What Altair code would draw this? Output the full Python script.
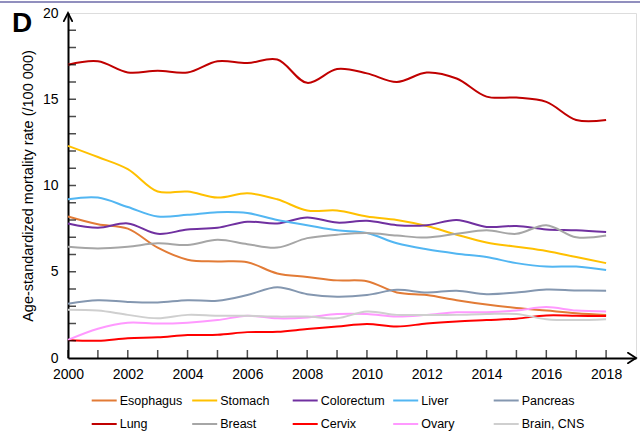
import altair as alt
import pandas as pd

# Age-standardized mortality rates (/100 000), 2000-2018
years = list(range(2000, 2019))

sites = ["Esophagus", "Stomach", "Colorectum", "Liver", "Pancreas",
         "Lung", "Breast", "Cervix", "Ovary", "Brain, CNS"]
colors = ["#E27B36", "#FFC000", "#7030A0", "#52B6F2", "#8497B0",
          "#C00000", "#A6A6A6", "#FF0000", "#FF99FF", "#CFCFCF"]

esophagus = [8.2, 7.75, 7.5, 6.4, 5.7, 5.6, 5.55, 4.9, 4.7, 4.5, 4.45, 3.8, 3.65, 3.35, 3.1, 2.9, 2.75, 2.6, 2.5]
stomach = [12.3, 11.65, 10.95, 9.65, 9.65, 9.3, 9.55, 9.2, 8.55, 8.55, 8.2, 8.0, 7.65, 7.15, 6.7, 6.45, 6.2, 5.85, 5.5]
colorectum = [7.8, 7.55, 7.8, 7.2, 7.45, 7.55, 7.9, 7.8, 8.15, 7.85, 7.95, 7.7, 7.7, 8.0, 7.6, 7.65, 7.45, 7.4, 7.3]
liver = [9.2, 9.3, 8.75, 8.2, 8.3, 8.45, 8.4, 8.0, 7.7, 7.4, 7.25, 6.65, 6.3, 6.05, 5.85, 5.5, 5.3, 5.3, 5.1]
pancreas = [3.15, 3.35, 3.25, 3.22, 3.35, 3.32, 3.65, 4.1, 3.7, 3.55, 3.65, 3.95, 3.8, 3.9, 3.7, 3.8, 3.97, 3.92, 3.9]
lung = [17.0, 17.2, 16.55, 16.65, 16.55, 17.2, 17.1, 17.3, 15.95, 16.75, 16.5, 16.0, 16.55, 16.2, 15.15, 15.1, 14.85, 13.8, 13.8]
breast = [6.45, 6.35, 6.45, 6.65, 6.55, 6.85, 6.6, 6.4, 6.95, 7.15, 7.25, 7.1, 6.98, 7.2, 7.4, 7.2, 7.7, 7.0, 7.1]
cervix = [1.05, 1.0, 1.15, 1.2, 1.33, 1.35, 1.5, 1.52, 1.68, 1.82, 1.97, 1.82, 2.0, 2.12, 2.2, 2.28, 2.47, 2.45, 2.43]
ovary = [1.05, 1.7, 2.05, 2.0, 2.05, 2.2, 2.45, 2.3, 2.35, 2.55, 2.55, 2.4, 2.5, 2.65, 2.65, 2.75, 2.95, 2.75, 2.7]
brain_cns = [2.8, 2.75, 2.5, 2.3, 2.5, 2.45, 2.45, 2.4, 2.4, 2.3, 2.7, 2.5, 2.5, 2.5, 2.55, 2.55, 2.25, 2.2, 2.25]

series = [esophagus, stomach, colorectum, liver, pancreas,
          lung, breast, cervix, ovary, brain_cns]

x_labels = list(range(2000, 2019, 2))
y_labels = [0, 5, 10, 15, 20]
panel_label = ["D"]

X_MIN, X_END = 2000, 2019
Y_MIN, Y_END = 0, 20
W, H = 568, 345
FONT = "Liberation Sans"

rows = []
for site, vals in zip(sites, series):
    for yr, v in zip(years, vals):
        rows.append({"year": yr, "site": site, "rate": v})
df = pd.DataFrame(rows)

x_scale = alt.Scale(domain=[X_MIN, X_END], nice=False, zero=False)
y_scale = alt.Scale(domain=[Y_MIN, Y_END], nice=False)

x_axis = alt.Axis(values=x_labels, format="d", title=None, grid=False,
                  tickSize=0, domainWidth=2, domainColor="black",
                  labelFontSize=14, labelColor="black",
                  labelPadding=9, labelFlush=False, labelFont=FONT)
y_axis = alt.Axis(values=y_labels, title="Age-standardized mortality rate (/100 000)",
                  grid=False, tickSize=0, domainWidth=2, domainColor="black",
                  labelFontSize=14, labelColor="black", labelPadding=10,
                  labelFont=FONT, titleFont=FONT, titleFontSize=14.5,
                  titleFontWeight="normal", titleColor="black",
                  titlePadding=7)

lines = alt.Chart(df).mark_line(
    interpolate="catmull-rom", strokeWidth=2
).encode(
    x=alt.X("year:Q", scale=x_scale, axis=x_axis),
    y=alt.Y("rate:Q", scale=y_scale, axis=y_axis),
    color=alt.Color("site:N", scale=alt.Scale(domain=sites, range=colors),
                    legend=alt.Legend(orient="none", legendX=22.7, legendY=374,
                                      direction="horizontal", columns=5,
                                      gridAlign="all", title=None,
                                      symbolType="stroke", symbolSize=625,
                                      symbolStrokeWidth=2, labelFontSize=12.5,
                                      labelFont=FONT, labelColor="black",
                                      labelOffset=2, columnPadding=4.5,
                                      rowPadding=3.5, padding=0)),
    detail="site:N",
)

# minor/major ticks drawn inside the axes
x_ticks = alt.Chart(pd.DataFrame({"year": years, "rate": [Y_MIN] * len(years)})).mark_tick(
    orient="vertical", size=8, thickness=1.5, yOffset=-4, color="black"
).encode(
    x=alt.X("year:Q", scale=x_scale),
    y=alt.Y("rate:Q", scale=y_scale),
)

y_vals = list(range(1, 20))
y_ticks = alt.Chart(pd.DataFrame({"rate": y_vals, "year": [X_MIN] * len(y_vals)})).mark_tick(
    orient="horizontal", size=8, thickness=1.5, xOffset=4, color="black"
).encode(
    x=alt.X("year:Q", scale=x_scale),
    y=alt.Y("rate:Q", scale=y_scale),
)

# open arrow heads at the ends of both axes
arrow_df = pd.DataFrame({
    "year": [X_END - 0.27, X_END, X_END - 0.27,
             X_MIN - 0.14, X_MIN, X_MIN + 0.14],
    "rate": [Y_MIN + 0.3, Y_MIN, Y_MIN - 0.3,
             Y_END - 0.47, Y_END, Y_END - 0.47],
    "arm": ["x", "x", "x", "y", "y", "y"],
    "k": [0, 1, 2, 0, 1, 2],
})
arrows = alt.Chart(arrow_df).mark_line(
    color="black", strokeWidth=1.8, strokeCap="round", strokeJoin="miter"
).encode(
    x=alt.X("year:Q", scale=x_scale),
    y=alt.Y("rate:Q", scale=y_scale),
    detail="arm:N",
    order="k:Q",
)

# panel letter in the top-left corner
letter = alt.Chart(pd.DataFrame({"t": panel_label})).mark_text(
    font=FONT, fontSize=28, fontWeight="bold", color="black",
    align="left", baseline="alphabetic"
).encode(text="t:N", x=alt.value(-56), y=alt.value(19))

top_border = alt.Chart(pd.DataFrame({"a": [0]})).mark_rule(
    color="#6C6AA8", strokeWidth=1.5
).encode(x=alt.value(-68), x2=alt.value(572), y=alt.value(-11))

chart = alt.layer(lines, x_ticks, y_ticks, arrows, letter, top_border).properties(
    width=W, height=H,
    autosize=alt.AutoSizeParams(type="none"),
    padding={"left": 68, "top": 13, "right": 4, "bottom": 75},
).configure_view(stroke=None).configure(font=FONT)

chart.save("out.html", embed_options={"renderer": "svg", "actions": False})
